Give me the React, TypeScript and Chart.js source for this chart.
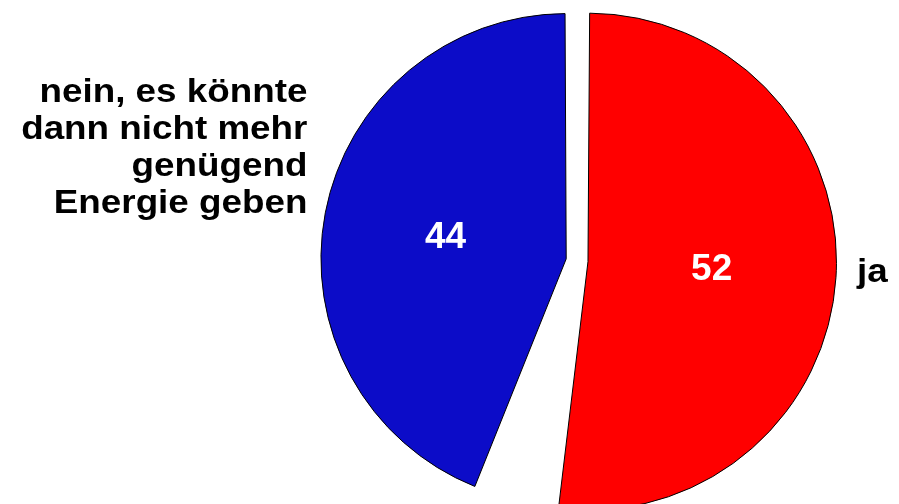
import React, { useEffect, useRef } from 'react';
import { Chart, registerables } from 'chart.js';

Chart.register(...registerables);

// Data
const categories = ['ja', 'keine Angabe', 'nein, es könnte dann nicht mehr genügend Energie geben'];
const values = [52, 4, 44];
const valueLabels = ['52', '', '44'];
const labelLines: string[][] = [['ja'], [], ['nein, es könnte', 'dann nicht mehr', 'genügend', 'Energie geben']];
const sliceColors = ['#ff0000', 'rgba(0,0,0,0)', '#0c0cc8'];
const sliceBorders = [1, 0, 1];
const sliceOffsets = [42, 0, 46];

const FONT = '"Liberation Sans", Arial, Helvetica, sans-serif';

const sliceLabelPlugin = {
  id: 'sliceLabels',
  afterDatasetsDraw(chart: any) {
    const ctx = chart.ctx as CanvasRenderingContext2D;
    const meta = chart.getDatasetMeta(0);
    meta.data.forEach((arc: any, i: number) => {
      if (!labelLines[i].length) return;
      const p = arc.getProps(['x', 'y', 'startAngle', 'endAngle', 'outerRadius'], true);
      const off = arc.options.offset || 0;
      const mid = (p.startAngle + p.endAngle) / 2;
      const right = Math.cos(mid) < 0;
      ctx.save();
      // value inside the slice
      const nr = 0.48 * (p.outerRadius + 42);
      ctx.fillStyle = '#ffffff';
      ctx.font = `bold 37px ${FONT}`;
      ctx.textAlign = 'center';
      ctx.textBaseline = 'middle';
      ctx.fillText(valueLabels[i], p.x + Math.cos(mid) * nr, p.y + Math.sin(mid) * nr + (right ? 2 : 0));

      // category label outside
      const r = p.outerRadius + off / 2 + (right ? 14 : 21);
      const ax = p.x + Math.cos(mid) * r;
      const ay = p.y + Math.sin(mid) * r + 3.5;
      ctx.fillStyle = '#000000';
      ctx.font = `bold 33px ${FONT}`;
      ctx.textAlign = right ? 'right' : 'left';
      ctx.textBaseline = 'alphabetic';
      const lh = 37;
      const n = labelLines[i].length;
      labelLines[i].forEach((line, k) => {
        ctx.save();
        ctx.translate(ax, ay - (n - 1 - k) * lh);
        ctx.scale(1.115, 1);
        ctx.fillText(line, 0, 0);
        ctx.restore();
      });
      ctx.restore();
    });
  },
};

export default function App() {
  const canvasRef = useRef<HTMLCanvasElement | null>(null);

  useEffect(() => {
    if (!canvasRef.current) return;
    const chart = new Chart(canvasRef.current, {
      type: 'pie',
      data: {
        labels: categories,
        datasets: [
          {
            data: values,
            backgroundColor: sliceColors,
            borderColor: '#000000',
            borderWidth: sliceBorders,
            offset: sliceOffsets,
          },
        ],
      },
      options: {
        animation: false,
        responsive: true,
        maintainAspectRatio: false,
        events: [],
        radius: 238,
        rotation: 0,
        layout: { padding: { left: 256, right: 0, top: 0, bottom: 0 } },
        plugins: {
          legend: { display: false },
          tooltip: { enabled: false },
        },
      } as any,
      plugins: [sliceLabelPlugin],
    });
    return () => chart.destroy();
  }, []);

  return (
    <div style={{ position: 'fixed', left: 0, top: 0, width: 899, height: 504, overflow: 'hidden', background: '#ffffff' }}>
      <div style={{ position: 'relative', width: 899, height: 522 }}>
        <canvas ref={canvasRef} />
      </div>
    </div>
  );
}
